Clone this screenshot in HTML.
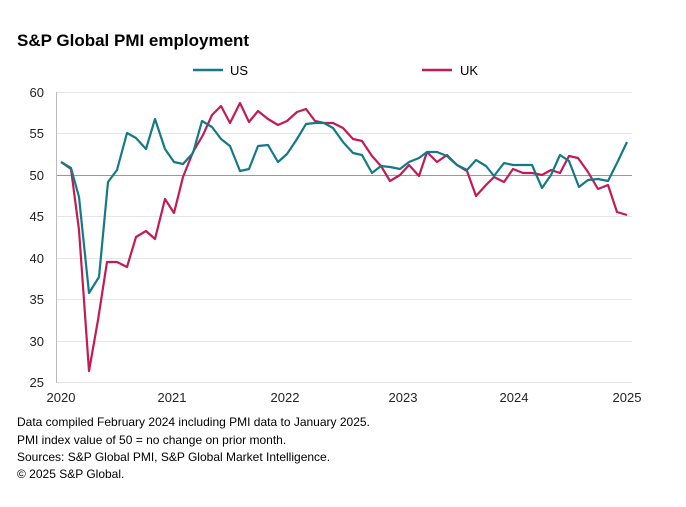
<!DOCTYPE html>
<html><head><meta charset="utf-8"><style>
body{margin:0;background:#fff;width:686px;height:502px;overflow:hidden;font-family:"Liberation Sans",Arial,sans-serif;}
</style></head><body>
<svg width="686" height="502" viewBox="0 0 686 502" xmlns="http://www.w3.org/2000/svg" font-family="Liberation Sans, Arial, sans-serif">
<text x="17" y="46" font-size="17" font-weight="bold" fill="#000">S&amp;P Global PMI employment</text>
<line x1="193" y1="70" x2="223" y2="70" stroke="#137a86" stroke-width="2.5"/>
<text x="230" y="75" font-size="13" fill="#000">US</text>
<line x1="422" y1="70" x2="452" y2="70" stroke="#c21b55" stroke-width="2.5"/>
<text x="460" y="75" font-size="13" fill="#000">UK</text>
<g stroke="#e6e6e6" stroke-width="1">
<line x1="56" y1="92.5" x2="632" y2="92.5"/><line x1="56" y1="133.5" x2="632" y2="133.5"/>
<line x1="56" y1="216.5" x2="632" y2="216.5"/><line x1="56" y1="258.5" x2="632" y2="258.5"/>
<line x1="56" y1="299.5" x2="632" y2="299.5"/><line x1="56" y1="341.5" x2="632" y2="341.5"/>
<line x1="56" y1="382.5" x2="632" y2="382.5"/>
</g>
<line x1="56" y1="175.5" x2="632" y2="175.5" stroke="#999" stroke-width="1"/>
<line x1="56.5" y1="92" x2="56.5" y2="383" stroke="#bbb" stroke-width="1"/>
<g font-size="13" fill="#222" text-anchor="end">
<text x="44" y="97">60</text><text x="44" y="138">55</text><text x="44" y="180">50</text>
<text x="44" y="221">45</text><text x="44" y="263">40</text><text x="44" y="304">35</text>
<text x="44" y="346">30</text><text x="44" y="387">25</text>
</g>
<g font-size="13" fill="#222" text-anchor="middle">
<text x="61" y="402">2020</text><text x="172" y="402">2021</text><text x="285" y="402">2022</text>
<text x="403" y="402">2023</text><text x="514" y="402">2024</text><text x="627" y="402">2025</text>
</g>
<polyline fill="none" stroke="#c21b55" stroke-width="2.2" stroke-linejoin="round" points="61,162 71,169 79,230 89,371 98,320 107,262 117,262 127,267 136,237 146,231 155,239 165,199 174,213 183,177 193,152 203,135 212,115 221,106 230,123 240,103 249,122 258,111 268,119 278,125 287,121 297,112 306,109 315,121 324,123 333,123 343,128 353,139 362,141 372,156 381,166 390,181 400,175 409,165 419,176 427,152 437,162 447,155 457,165 467,171 476,196 486,185 494,177 504,182 513,169 523,173 532,173 542,175 551,170 560,173 569,156 578,158 588,172 598,189 608,185 617,212 627,215"/>
<polyline fill="none" stroke="#137a86" stroke-width="2.2" stroke-linejoin="round" points="61,162 71,168 79,197 89,293 99,277 108,182 117,170 127,133 136,138 146,149 155,119 165,149 174,162 183,164 193,153 202,121 212,127 221,139 230,146 240,171 249,169 258,146 268,145 278,162 287,154 297,139 306,124 315,123 324,123 333,128 343,142 353,153 362,155 372,173 381,166 390,167 400,169 409,162 419,158 427,152 437,152 447,156 457,165 467,170 476,160 486,166 494,176 504,163 513,165 523,165 532,165 542,188 551,175 560,155 569,161 579,187 588,180 598,179 608,181 617,163 627,142"/>
<g font-size="12" fill="#000">
<text x="17" y="426">Data compiled February 2024 including PMI data to January 2025.</text>
<text x="17" y="444">PMI index value of 50 = no change on prior month.</text>
<text x="17" y="461">Sources: S&amp;P Global PMI, S&amp;P Global Market Intelligence.</text>
<text x="17" y="478">© 2025 S&amp;P Global.</text>
</g>
</svg>
</body></html>
